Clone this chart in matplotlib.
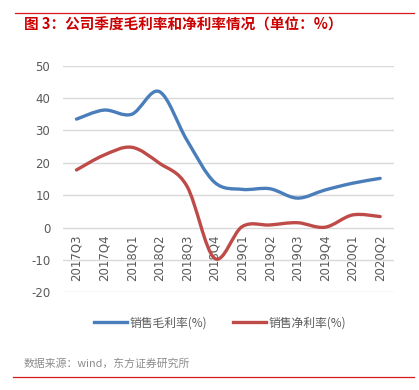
import matplotlib
matplotlib.use("Agg")
import matplotlib.pyplot as plt
from matplotlib.path import Path
from matplotlib.patches import PathPatch
from matplotlib.lines import Line2D

plt.rcParams['font.family'] = ['Noto Sans CJK SC', 'DejaVu Sans']
plt.rcParams['axes.unicode_minus'] = False

quarters = ["2017Q3", "2017Q4", "2018Q1", "2018Q2", "2018Q3", "2018Q4",
            "2019Q1", "2019Q2", "2019Q3", "2019Q4", "2020Q1", "2020Q2"]
gross_margin = [33.5, 36.3, 35.0, 42.0, 27.0, 14.0, 11.8, 12.0, 9.1, 11.6, 13.7, 15.2]
net_margin = [17.8, 22.4, 24.8, 19.9, 12.8, -9.5, 0.3, 0.8, 1.5, 0.1, 3.9, 3.4]
names = ["销售毛利率(%)", "销售净利率(%)"]
colors = ["#4a7ebb", "#be4b48"]


def smooth_path(xs, ys):
    # Excel-style smoothed line: cubic Bezier segments through the points
    n = len(xs)
    verts = [(xs[0], ys[0])]
    codes = [Path.MOVETO]
    for i in range(n - 1):
        x0, y0 = (xs[i - 1], ys[i - 1]) if i > 0 else (xs[i], ys[i])
        x3, y3 = (xs[i + 2], ys[i + 2]) if i + 2 < n else (xs[i + 1], ys[i + 1])
        c1 = (xs[i] + (xs[i + 1] - x0) / 6, ys[i] + (ys[i + 1] - y0) / 6)
        c2 = (xs[i + 1] - (x3 - xs[i]) / 6, ys[i + 1] - (y3 - ys[i]) / 6)
        verts += [c1, c2, (xs[i + 1], ys[i + 1])]
        codes += [Path.CURVE4] * 3
    return Path(verts, codes)


fig = plt.figure(figsize=(4.19, 3.9), dpi=100)
ax = fig.add_axes([0.1496, 0.2505, 0.7907, 0.581])

x = list(range(len(quarters)))
for vals, c in zip([gross_margin, net_margin], colors):
    ax.add_patch(PathPatch(smooth_path(x, vals), facecolor="none", edgecolor=c,
                           lw=2.4, capstyle="round", zorder=3))

ax.set_xlim(-0.5, len(quarters) - 0.5)
ax.set_ylim(-20, 50)
ax.set_yticks(range(-20, 51, 10))
ax.yaxis.grid(True, color="#d9d9d9", lw=1)
ax.set_axisbelow(True)
for s in ["top", "right", "left"]:
    ax.spines[s].set_visible(False)
ax.spines["bottom"].set_position(("data", 0))
ax.spines["bottom"].set_visible(False)
ax.set_xticks(x)
ax.set_xticklabels(quarters, rotation=90, fontsize=8, color="#595959",
                   family="DejaVu Sans")
ax.tick_params(axis="both", length=0, labelsize=8.5, labelcolor="#595959")
ax.tick_params(axis="x", pad=5)
ax.tick_params(axis="y", pad=9)
for t in ax.get_yticklabels():
    t.set_family("DejaVu Sans")

handles = [Line2D([], [], color=c, lw=2.4) for c in colors]
fig.legend(handles, names, loc="center", bbox_to_anchor=(0.525, 0.172), ncol=2,
           frameon=False, fontsize=8.5, labelcolor="#595959", handlelength=2.8,
           columnspacing=2.2, handletextpad=0.2)

fig.add_artist(Line2D([0.036, 0.988], [1 - 12.5 / 390] * 2, color="#d7191c", lw=0.9))
fig.add_artist(Line2D([0.031, 0.988], [1 - 377 / 390] * 2, color="#d7191c", lw=0.9))
fig.text(0.057, 1 - 25 / 390, "图 3：公司季度毛利率和净利率情况（单位：%）", color="#cc0000",
         fontsize=10.5, fontweight="bold", va="center", ha="left")
fig.text(0.057, 1 - 364 / 390, "数据来源：wind，东方证券研究所", color="#8c8c8c",
         fontsize=7.8, va="center", ha="left")

fig.savefig("out.png", dpi=100)
